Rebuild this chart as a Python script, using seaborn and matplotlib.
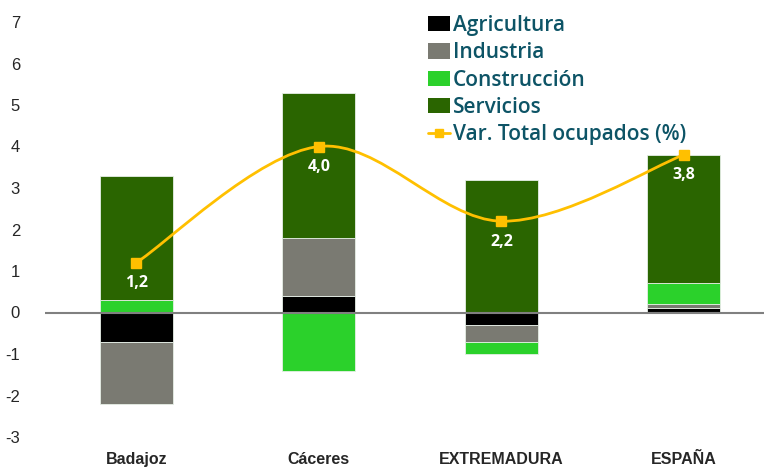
import numpy as np
import pandas as pd
import seaborn as sns
import matplotlib
matplotlib.use("Agg")
import matplotlib.pyplot as plt
from matplotlib.path import Path
from matplotlib.patches import PathPatch, Patch
from matplotlib.lines import Line2D

# Datos
zonas = ["Badajoz", "Cáceres", "EXTREMADURA", "ESPAÑA"]
agricultura = [-0.7, 0.4, -0.3, 0.1]
industria = [-1.5, 1.4, -0.4, 0.1]
construccion = [0.3, -1.4, -0.3, 0.5]
servicios = [3.0, 3.5, 3.2, 3.1]
var_total = [1.2, 4.0, 2.2, 3.8]
etiquetas_var = ["1,2", "4,0", "2,2", "3,8"]

sectores = ["Agricultura", "Industria", "Construcción", "Servicios"]
colores = ["#000000", "#7a7a72", "#2bd12b", "#2a6500"]
color_linea = "#ffc000"
color_texto = "#0d5466"

sns.set_style("white")
plt.rcParams["font.family"] = ["Liberation Sans", "DejaVu Sans"]

fig = plt.figure(figsize=(7.64, 4.68), dpi=100)
ax = fig.add_axes([45 / 764, 31 / 468, 1 - 45 / 764, (437 - 22) / 468])

df = pd.DataFrame({
    "zona": zonas,
    "Agricultura": agricultura,
    "Industria": industria,
    "Construcción": construccion,
    "Servicios": servicios,
})

# apilado separando positivos y negativos
pos_base = np.zeros(len(zonas))
neg_base = np.zeros(len(zonas))
for sector, color in zip(sectores, colores):
    vals = df[sector].to_numpy()
    bottom = np.where(vals >= 0, pos_base, neg_base)
    sns.barplot(data=df, x="zona", y=sector, order=zonas, bottom=bottom,
                color=color, width=0.4, errorbar=None, ax=ax,
                edgecolor="#e6efe6", linewidth=0.6, saturation=1)
    pos_base = pos_base + np.where(vals >= 0, vals, 0)
    neg_base = neg_base + np.where(vals < 0, vals, 0)

# linea suavizada (bezier tipo Excel) a traves de los puntos
xs = np.arange(len(zonas), dtype=float)
pts = np.column_stack([xs, var_total])
n = len(pts)
verts = [tuple(pts[0])]
codes = [Path.MOVETO]
for i in range(n - 1):
    p_prev = pts[max(i - 1, 0)]
    p0 = pts[i]
    p1 = pts[i + 1]
    p_next = pts[min(i + 2, n - 1)]
    c1 = p0 + (p1 - p_prev) / 6
    c2 = p1 - (p_next - p0) / 6
    verts += [tuple(c1), tuple(c2), tuple(p1)]
    codes += [Path.CURVE4] * 3
ax.add_patch(PathPatch(Path(verts, codes), facecolor="none",
                       edgecolor=color_linea, lw=2, zorder=5))
ax.plot(xs, var_total, linestyle="none", marker="s", markersize=7,
        color=color_linea, zorder=6)

for x, v, t in zip(xs, var_total, etiquetas_var):
    ax.text(x, v - 0.3, t, ha="center", va="top", color="white",
            fontsize=11.5, fontweight="bold", family=["Open Sans", "DejaVu Sans"], zorder=7)

ax.axhline(0, color="#808080", lw=1.5, zorder=4)

ax.set_xlim(-0.5, 3 + 80 / 182.3)
ax.set_ylim(-3, 7)
ax.set_yticks(range(-3, 8))
ax.set_yticklabels([str(v) for v in range(-3, 8)], fontsize=12)
ax.tick_params(axis="y", length=0, pad=18)
ax.tick_params(axis="x", length=0, pad=10.5)
ax.set_xticks(xs)
ax.set_xticklabels(zonas, fontsize=11.5, fontweight="bold")
ax.set_xlabel("")
ax.set_ylabel("")
sns.despine(ax=ax, left=True, bottom=True)

handles = [Patch(facecolor=c, edgecolor="none", label=s) for s, c in zip(sectores, colores)]
handles.append(Line2D([], [], color=color_linea, lw=2, marker="s", markersize=6,
                      label="Var. Total ocupados (%)"))
leg = fig.legend(handles=handles, loc="upper left", bbox_to_anchor=(428 / 764, 1 - 15 / 468),
                 frameon=False, handlelength=1.05, handleheight=0.75, handletextpad=0.15,
                 labelspacing=0.3, borderpad=0, borderaxespad=0,
                 prop={"family": ["Open Sans", "DejaVu Sans"], "weight": "semibold", "size": 15})
for t in leg.get_texts():
    t.set_color(color_texto)

fig.savefig("out.png", dpi=100)
